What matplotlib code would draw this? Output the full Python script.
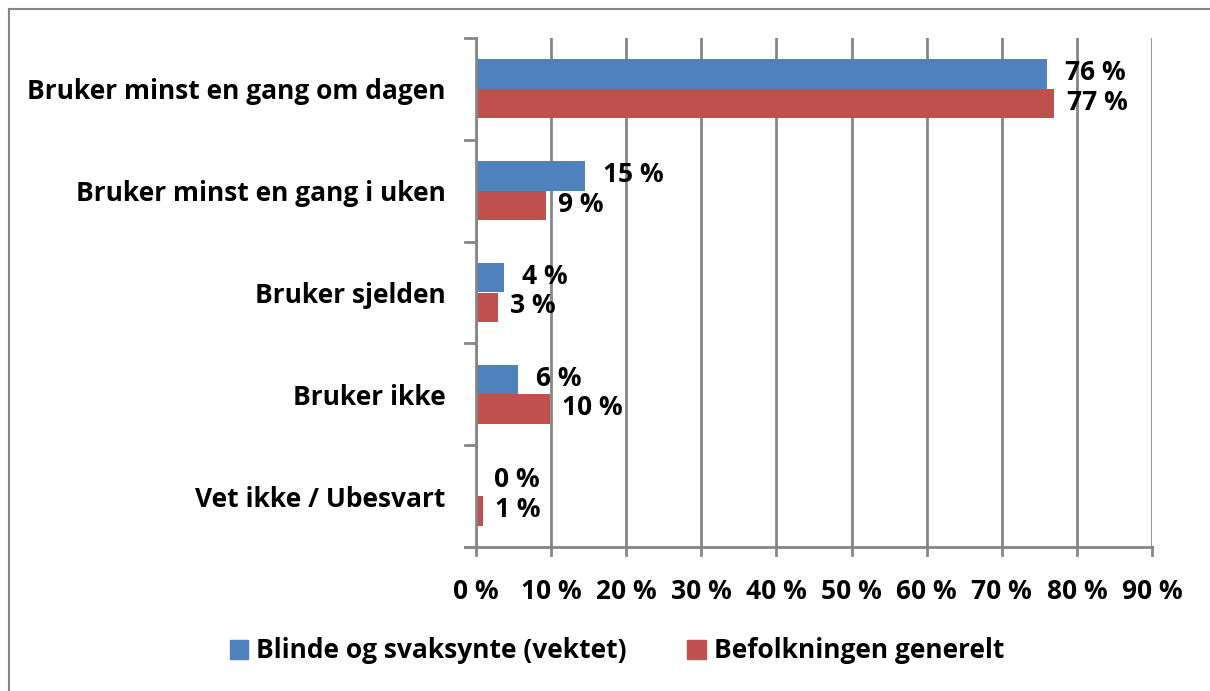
import matplotlib
matplotlib.use("Agg")
import matplotlib.pyplot as plt
from matplotlib.lines import Line2D
from matplotlib.patches import Patch
import numpy as np

categories = ["Bruker minst en gang om dagen", "Bruker minst en gang i uken",
              "Bruker sjelden", "Bruker ikke", "Vet ikke / Ubesvart"]
series_names = ["Blinde og svaksynte (vektet)", "Befolkningen generelt"]
blinde = [76.0, 14.5, 3.7, 5.6, 0.0]
befolkning = [77.0, 9.3, 2.9, 9.85, 0.93]
blinde_labels = ["76 %", "15 %", "4 %", "6 %", "0 %"]
befolkning_labels = ["77 %", "9 %", "3 %", "10 %", "1 %"]
xticks = [0, 10, 20, 30, 40, 50, 60, 70, 80, 90]
xtick_labels = [f"{t} %" for t in xticks]

blue = "#4F81BD"
red = "#C0504D"
gray = "#868686"
FONT = "Open Sans"
FS = 19

W, H = 1210, 691
fig = plt.figure(figsize=(W / 100, H / 100), dpi=100)
ax = fig.add_axes([476 / W, 1 - 547 / H, (1152 - 476) / W, (547 - 38) / H])

n = len(categories)
y = np.arange(n)
bh = 0.29
ax.barh(y - bh / 2, blinde, height=bh, color=blue, zorder=3)
ax.barh(y + bh / 2, befolkning, height=bh, color=red, zorder=3)

for i in range(n):
    ax.annotate(blinde_labels[i], (blinde[i], y[i] - bh / 2), xytext=(13, 1),
                textcoords="offset points", va="center", ha="left",
                fontsize=FS, fontweight="bold", family=FONT, zorder=4)
    ax.annotate(befolkning_labels[i], (befolkning[i], y[i] + bh / 2), xytext=(9, 1),
                textcoords="offset points", va="center", ha="left",
                fontsize=FS, fontweight="bold", family=FONT, zorder=4)

ax.set_ylim(n - 0.5, -0.5)
ax.set_xlim(0, 90)
ax.set_xticks(xticks)
ax.set_xticklabels(xtick_labels, fontsize=FS, fontweight="bold", family=FONT)
ax.set_yticks(y)
ax.set_yticklabels(categories, fontsize=FS, fontweight="bold", family=FONT)
ax.tick_params(axis="y", length=0, pad=22)
ax.tick_params(axis="x", length=0, pad=22)

# category separator ticks on the y axis
for b in np.arange(-0.5, n + 0.5, 1):
    ax.plot([-1.4, 0], [b, b], color=gray, lw=2, clip_on=False, zorder=4)
# x tick marks below the axis
for t in xticks:
    ax.plot([t, t], [n - 0.5, n - 0.5 + 0.08], color=gray, lw=2, clip_on=False, zorder=4)

ax.grid(axis="x", color=gray, lw=2, zorder=0)
for s in ["top", "right"]:
    ax.spines[s].set_visible(False)
ax.spines["left"].set_color(gray)
ax.spines["left"].set_linewidth(2)
ax.spines["bottom"].set_color(gray)
ax.spines["bottom"].set_linewidth(2)
ax.spines["left"].set_zorder(5)
ax.spines["bottom"].set_bounds(-1.4, 90)

handles = [Patch(color=blue), Patch(color=red)]
fig.legend(handles, series_names, loc="center", bbox_to_anchor=(617 / W, 1 - 651 / H),
           ncol=2, frameon=False, prop={"family": FONT, "weight": "bold", "size": FS},
           handlelength=0.7, handleheight=0.7, handletextpad=0.3, columnspacing=2.3)

# outer chart frame (left and top visible)
fig.add_artist(Line2D([9 / W, 9 / W], [0, 1 - 9 / H], color=gray, lw=1.5))
fig.add_artist(Line2D([9 / W, 1], [1 - 9 / H, 1 - 9 / H], color=gray, lw=1.5))

fig.savefig("out.png", dpi=100)
